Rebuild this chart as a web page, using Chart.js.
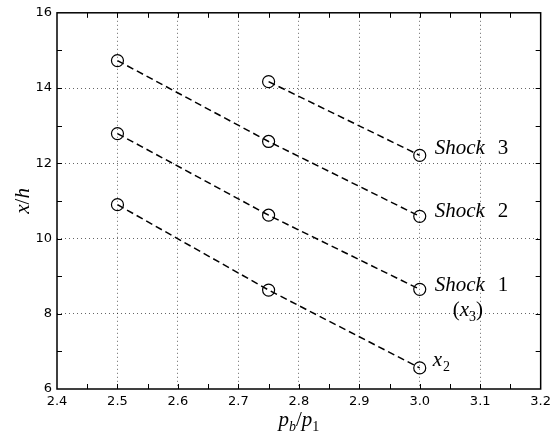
<!DOCTYPE html>
<html>
<head>
<meta charset="utf-8">
<script src="https://cdn.jsdelivr.net/npm/chart.js@4.4.1/dist/chart.umd.min.js"></script>
<style>
    html, body { margin: 0; padding: 0; background: #fff; }
    #wrap { width: 556px; height: 442px; }
</style>
</head>
<body>
<div id="wrap"><canvas id="shockChart"></canvas></div>
<script>
// Shock positions against back-pressure ratio
const pressureRatio = [2.5, 2.75, 3.0];
const x2Pos = [10.9, 8.63, 6.56];
const shock1Pos = [12.79, 10.62, 8.65];
const shock2Pos = [14.73, 12.58, 10.59];
const shock3Ratio = [2.75, 3.0];
const shock3Pos = [14.17, 12.21];

const xTickValues = [2.4, 2.5, 2.6, 2.7, 2.8, 2.9, 3.0, 3.1, 3.2];
const yTickValues = [6, 8, 10, 12, 14, 16];
const xMinorTicks = [2.45, 2.5, 2.55, 2.6, 2.65, 2.7, 2.75, 2.8, 2.85, 2.9, 2.95, 3.0, 3.05, 3.1, 3.15];
const yMinorTicks = [7, 8, 9, 10, 11, 12, 13, 14, 15];

const serif = '"Liberation Serif", "Times New Roman", serif';
const sans = '"DejaVu Sans", sans-serif';

function series(xs, ys) {
    return xs.map((v, i) => ({ x: v, y: ys[i] }));
}

function lineSet(label, data) {
    return {
        label,
        data,
        showLine: true,
        borderColor: '#000',
        borderWidth: 1.5,
        borderDash: [7, 4],
        pointRadius: 6,
        pointHoverRadius: 6,
        pointBackgroundColor: 'rgba(0,0,0,0)',
        pointBorderColor: '#000',
        pointBorderWidth: 1.2
    };
}

// draws a run of text pieces, italic / upright / subscript
function drawRich(ctx, pieces, x, y) {
    let cx = x;
    pieces.forEach(p => {
        const size = p.sub ? 14 : 21;
        ctx.font = (p.italic ? 'italic ' : '') + size + 'px ' + serif;
        if (p.at !== undefined) cx = x + p.at;
        ctx.fillText(p.t, cx, y + (p.sub ? 5 : 0));
        cx += ctx.measureText(p.t).width + (p.gap || 0);
    });
    return cx - x;
}

function richWidth(ctx, pieces) {
    let w = 0;
    pieces.forEach(p => {
        ctx.font = (p.italic ? 'italic ' : '') + (p.sub ? 14 : 21) + 'px ' + serif;
        w += ctx.measureText(p.t).width + (p.gap || 0);
    });
    return w;
}

const curveLabels = [
    { ds: 3, dy: -1, pieces: [{ t: 'Shock', italic: true }, { t: '3', at: 63 }] },
    { ds: 2, dy: 1, pieces: [{ t: 'Shock', italic: true }, { t: '2', at: 63 }] },
    { ds: 1, dy: 2, pieces: [{ t: 'Shock', italic: true }, { t: '1', at: 63 }] },
    { ds: 1, dy: 27, dx: 18, pieces: [{ t: '(' }, { t: 'x', italic: true }, { t: '3', sub: true }, { t: ')' }] },
    { ds: 0, dy: -2, dx: -2, pieces: [{ t: 'x', italic: true, gap: 1 }, { t: '2', sub: true }] }
];

const framePlugin = {
    id: 'framePlugin',
    afterDraw(chart) {
        const { ctx, chartArea: a, scales: { x, y } } = chart;
        ctx.save();
        ctx.strokeStyle = '#000';

        // inward tick marks on all four sides
        ctx.lineWidth = 1;
        ctx.beginPath();
        xMinorTicks.forEach(v => {
            const px = Math.round(x.getPixelForValue(v)) + 0.5;
            ctx.moveTo(px, a.bottom); ctx.lineTo(px, a.bottom - 5);
            ctx.moveTo(px, a.top); ctx.lineTo(px, a.top + 5);
        });
        yMinorTicks.forEach(v => {
            const py = Math.round(y.getPixelForValue(v)) + 0.5;
            ctx.moveTo(a.left, py); ctx.lineTo(a.left + 5, py);
            ctx.moveTo(a.right, py); ctx.lineTo(a.right - 5, py);
        });
        ctx.stroke();

        ctx.lineWidth = 1.5;
        ctx.strokeRect(a.left, a.top, a.right - a.left, a.bottom - a.top);

        // curve labels next to the last point of each line
        ctx.fillStyle = '#000';
        ctx.textBaseline = 'alphabetic';
        curveLabels.forEach(l => {
            const ds = chart.data.datasets[l.ds].data;
            const last = ds[ds.length - 1];
            const px = x.getPixelForValue(last.x) + 15 + (l.dx || 0);
            const py = y.getPixelForValue(last.y) + l.dy;
            drawRich(ctx, l.pieces, px, py);
        });

        // axis titles
        const xTitle = [{ t: 'p', italic: true }, { t: 'b', italic: true, sub: true }, { t: '/' }, { t: 'p', italic: true }, { t: '1', sub: true }];
        const xw = richWidth(ctx, xTitle);
        drawRich(ctx, xTitle, (a.left + a.right) / 2 - xw / 2, 426);

        const yTitle = [{ t: 'x', italic: true }, { t: '/' }, { t: 'h', italic: true }];
        const yw = richWidth(ctx, yTitle);
        ctx.translate(29, (a.top + a.bottom) / 2);
        ctx.rotate(-Math.PI / 2);
        drawRich(ctx, yTitle, -yw / 2, 0);
        ctx.restore();
    }
};

new Chart(document.getElementById('shockChart'), {
    type: 'scatter',
    data: {
        datasets: [
            lineSet('x2', series(pressureRatio, x2Pos)),
            lineSet('Shock 1', series(pressureRatio, shock1Pos)),
            lineSet('Shock 2', series(pressureRatio, shock2Pos)),
            lineSet('Shock 3', series(shock3Ratio, shock3Pos))
        ]
    },
    options: {
        responsive: true,
        maintainAspectRatio: false,
        devicePixelRatio: 1,
        animation: false,
        layout: { padding: { left: 0, top: 12, right: 12, bottom: 0 } },
        plugins: {
            legend: { display: false },
            tooltip: { enabled: false }
        },
        scales: {
            x: {
                type: 'linear',
                min: 2.4,
                max: 3.2,
                afterBuildTicks: scale => { scale.ticks = xTickValues.map(v => ({ value: v })); },
                afterFit: scale => { scale.height = 53; },
                ticks: {
                    padding: 5,
                    color: '#000',
                    font: { family: sans, size: 13 },
                    maxRotation: 0,
                    autoSkip: false,
                    callback: v => v.toFixed(1)
                },
                grid: {
                    drawTicks: false,
                    lineWidth: 1,
                    color: c => (c.tick && (c.tick.value <= 2.4 || c.tick.value >= 3.2)) ? 'rgba(0,0,0,0)' : 'rgba(0,0,0,0.6)'
                },
                border: { display: false, dash: [1, 3] }
            },
            y: {
                type: 'linear',
                min: 6,
                max: 16,
                afterBuildTicks: scale => { scale.ticks = yTickValues.map(v => ({ value: v })); },
                afterFit: scale => { scale.width = 57; },
                ticks: {
                    padding: 5,
                    color: '#000',
                    font: { family: sans, size: 13 },
                    autoSkip: false,
                    callback: v => String(v)
                },
                grid: {
                    drawTicks: false,
                    lineWidth: 1,
                    color: c => (c.tick && (c.tick.value <= 6 || c.tick.value >= 16)) ? 'rgba(0,0,0,0)' : 'rgba(0,0,0,0.6)'
                },
                border: { display: false, dash: [1, 3] }
            }
        }
    },
    plugins: [framePlugin]
});
</script>
</body>
</html>
